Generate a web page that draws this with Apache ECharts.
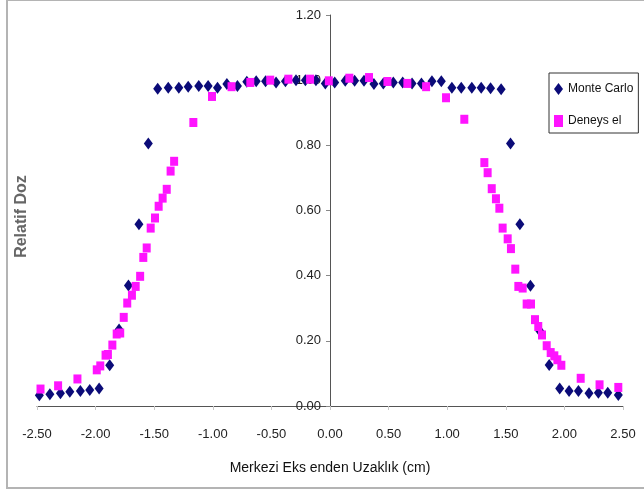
<!DOCTYPE html>
<html>
<head>
<meta charset="utf-8">
<script src="https://cdn.jsdelivr.net/npm/echarts@6/dist/echarts.min.js"></script>
<style>
  html, body { margin: 0; padding: 0; background: #fff; }
  #chart { width: 644px; height: 494px; }
</style>
</head>
<body>
<div id="chart"></div>
<script>
// Relative dose profile across the beam axis: Monte Carlo vs. measurement
const seriesNames = ['Monte Carlo', 'Deneys el'];

const mcX = [-2.48, -2.39, -2.30, -2.22, -2.13, -2.05, -1.97, -1.88, -1.80, -1.72,
  -1.63, -1.55, -1.47, -1.38, -1.29, -1.21, -1.12, -1.04, -0.96, -0.88,
  -0.79, -0.71, -0.63, -0.55, -0.46, -0.38, -0.29, -0.21, -0.12, -0.04,
  0.04, 0.13, 0.21, 0.29, 0.375, 0.455, 0.54, 0.62, 0.70, 0.78,
  0.87, 0.95, 1.04, 1.12, 1.21, 1.29, 1.37, 1.46, 1.54, 1.62,
  1.71, 1.79, 1.87, 1.96, 2.04, 2.12, 2.21, 2.29, 2.37, 2.46];
const mcY = [0.033, 0.036, 0.039, 0.044, 0.046, 0.049, 0.054, 0.125, 0.235, 0.370,
  0.558, 0.806, 0.974, 0.977, 0.977, 0.980, 0.982, 0.982, 0.977, 0.988,
  0.982, 0.995, 0.997, 0.997, 0.993, 0.997, 1.000, 1.000, 1.000, 0.990,
  0.993, 0.998, 0.998, 0.998, 0.988, 0.990, 0.993, 0.993, 0.990, 0.990,
  0.997, 0.997, 0.977, 0.977, 0.977, 0.977, 0.975, 0.972, 0.806, 0.558,
  0.369, 0.230, 0.126, 0.054, 0.046, 0.046, 0.039, 0.041, 0.041, 0.034];

const expX = [-2.47, -2.32, -2.155, -1.99, -1.96, -1.915, -1.895, -1.857, -1.82, -1.79,
  -1.76, -1.73, -1.69, -1.658, -1.62, -1.593, -1.564, -1.53, -1.493, -1.462,
  -1.428, -1.393, -1.36, -1.33, -1.166, -1.007, -0.84, -0.68, -0.51, -0.355,
  -0.17, -0.01, 0.165, 0.333, 0.49, 0.66, 0.82, 0.99, 1.146, 1.317,
  1.345, 1.38, 1.416, 1.445, 1.473, 1.516, 1.544, 1.581, 1.607, 1.644,
  1.678, 1.715, 1.749, 1.777, 1.809, 1.849, 1.883, 1.914, 1.94, 1.974,
  2.139, 2.30, 2.46];
const expY = [0.052, 0.062, 0.083, 0.111, 0.123, 0.156, 0.158, 0.187, 0.221, 0.224,
  0.272, 0.316, 0.340, 0.367, 0.398, 0.456, 0.485, 0.546, 0.577, 0.613,
  0.638, 0.665, 0.721, 0.751, 0.870, 0.950, 0.980, 0.993, 1.000, 1.003,
  1.003, 0.998, 1.006, 1.008, 0.996, 0.990, 0.980, 0.946, 0.880, 0.747,
  0.716, 0.667, 0.636, 0.607, 0.546, 0.513, 0.483, 0.420, 0.367, 0.362,
  0.313, 0.313, 0.265, 0.244, 0.218, 0.185, 0.164, 0.154, 0.142, 0.125,
  0.085, 0.065, 0.057];

const xRange = { min: -2.5, max: 2.5, step: 0.5 };
const yRange = { min: 0, max: 1.2, step: 0.2 };

const FONT = "'Liberation Sans', Arial, sans-serif";
const pairs = (xs, ys) => xs.map((x, i) => [x, ys[i]]);

// plot area; the value axis is drawn through x = 0 of the distance axis
const GRID = { left: 37, right: 21, top: 15, bottom: 88 };
const plotWidth = 644 - GRID.left - GRID.right;
const yAxisShift = -plotWidth * (0 - xRange.min) / (xRange.max - xRange.min);

const chart = echarts.init(document.getElementById('chart'), null, { renderer: 'canvas' });
chart.setOption({
  animation: false,
  backgroundColor: '#ffffff',
  graphic: [{
    type: 'rect',
    shape: { x: 7, y: 0, width: 700, height: 488 },
    style: { fill: 'none', stroke: '#b4b4b4', lineWidth: 2 },
    silent: true,
    z: -10
  }],
  grid: Object.assign({ containLabel: false, outerBoundsMode: 'none' }, GRID),
  legend: {
    orient: 'vertical',
    left: 549,
    top: 73,
    padding: [8, 5, 4, 5],
    itemGap: 16,
    itemWidth: 9,
    itemHeight: 12,
    borderColor: '#333',
    borderWidth: 1,
    backgroundColor: '#fff',
    data: [{ name: seriesNames[0], icon: 'diamond' }, { name: seriesNames[1], icon: 'rect' }],
    textStyle: { fontFamily: FONT, fontSize: 12, lineHeight: 16, color: '#111' }
  },
  xAxis: {
    type: 'value',
    min: xRange.min, max: xRange.max, interval: xRange.step,
    name: 'Merkezi Eks enden Uzaklık (cm)',
    nameLocation: 'middle',
    nameGap: 55,
    nameTextStyle: { fontFamily: FONT, fontSize: 14, color: '#111' },
    axisLine: { onZero: true, lineStyle: { color: '#555', width: 1 } },
    axisTick: { show: true, length: 4, lineStyle: { color: '#c8c8c8' } },
    axisLabel: { margin: 22, fontFamily: FONT, fontSize: 13, color: '#222',
      formatter: v => v.toFixed(2) },
    splitLine: { show: false }
  },
  yAxis: {
    type: 'value',
    min: yRange.min, max: yRange.max, interval: yRange.step,
    offset: yAxisShift,
    name: 'Relatif Doz',
    nameLocation: 'middle',
    nameRotate: 90,
    nameGap: 300,
    nameTextStyle: { fontFamily: FONT, fontWeight: 'bold', fontSize: 16, color: '#666',
      padding: [0, 12, 0, 0] },
    axisLine: { show: true, onZero: false, lineStyle: { color: '#555', width: 1 } },
    axisTick: { show: true, length: 4, lineStyle: { color: '#888' } },
    axisLabel: { margin: 9, fontFamily: FONT, fontSize: 13, color: '#222',
      formatter: v => v.toFixed(2) },
    splitLine: { show: false }
  },
  series: [{
    name: seriesNames[0],
    type: 'scatter',
    symbol: 'diamond',
    symbolSize: [9, 12],
    itemStyle: { color: '#0b0b78', opacity: 1 },
    data: pairs(mcX, mcY)
  }, {
    name: seriesNames[1],
    type: 'scatter',
    symbol: 'rect',
    symbolSize: [8, 9],
    itemStyle: { color: '#ff14ff', opacity: 1 },
    data: pairs(expX, expY)
  }]
});
</script>
</body>
</html>
